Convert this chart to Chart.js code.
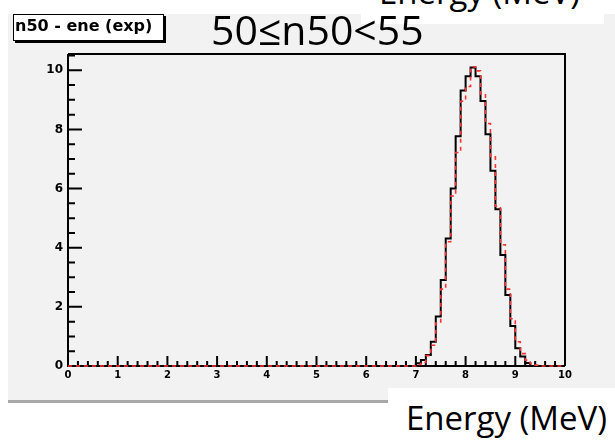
<!DOCTYPE html>
<html><head><meta charset="utf-8">
<script src="https://cdn.jsdelivr.net/npm/chart.js@4.4.0/dist/chart.umd.min.js"></script>
<style>
html,body{margin:0;padding:0;background:#fff;}
#wrap{position:relative;width:615px;height:440px;overflow:hidden;background:#fff;}
#panel{position:absolute;left:8px;top:14px;width:607px;height:386px;background:#f2f2f2;border-bottom:3px solid #a8a8a8;}
#c{position:absolute;left:0;top:0;}
.wbox{position:absolute;background:#fff;overflow:hidden;}
.slide{position:absolute;font-family:"Open Sans",sans-serif;line-height:1;white-space:nowrap;color:#000;}
#lbl{position:absolute;left:13px;top:14px;width:149px;height:25px;border:1px solid #000;box-shadow:2px 2px 0 #000;background:#fff;}
#lbl span{position:absolute;left:1px;top:3px;font-family:"DejaVu Sans",sans-serif;font-weight:bold;font-size:16px;line-height:1;white-space:nowrap;color:#000;}
</style></head>
<body>
<div id="wrap">
  <div id="panel"></div>
  <canvas id="c" width="615" height="440"></canvas>
  <div id="lbl"><span>n50 - ene (exp)</span></div>
  <div class="wbox" style="left:361px;top:0;width:243px;height:24px;">
    <div class="slide" style="left:18px;top:-25px;font-size:33px;">Energy (MeV)</div>
  </div>
  <div class="wbox" style="left:388px;top:388px;width:227px;height:52px;">
    <div class="slide" style="left:18px;top:13px;font-size:33px;">Energy (MeV)</div>
  </div>
  <div class="slide" style="left:211px;top:9px;font-size:41px;">50≤n50&lt;55</div>
</div>
<script>
// Histogram bins (low edges, width 0.1 MeV); bins outside this range are empty
const binLow   = [7.0,7.1,7.2,7.3,7.4,7.5,7.6,7.7,7.8,7.9,8.0,8.1,8.2,8.3,8.4,8.5,8.6,8.7,8.8,8.9,9.0,9.1,9.2,9.3,9.4];
const measured = [0.09,0.2,0.37,0.82,1.67,2.91,4.31,6.0,7.77,9.32,9.8,10.09,9.8,8.96,7.84,6.6,5.3,3.75,2.4,1.35,0.6,0.32,0.1,0,0];
const expected = [0.05,0.12,0.35,0.7,1.45,2.6,4.2,5.75,7.22,8.95,9.45,10.12,9.98,9.2,8.2,7.07,5.4,4.1,2.6,1.6,0.82,0.42,0.2,0.08,0.03];
const xRange = [0, 10];
const binWidth = 0.1;
const yMax = 10.55;
const xLabelStep = 1, xMinorStep = 0.2;
const yLabelStep = 2, yMinorStep = 0.5;

function histPoints(vals){
  const pts = [{x: xRange[0], y: 0}];
  binLow.forEach((b,i)=>pts.push({x:b, y:vals[i]}));
  pts.push({x: binLow[binLow.length-1] + binWidth, y: 0});
  pts.push({x: xRange[1], y: 0});
  return pts;
}

const axesPlugin = {
  id:'rootAxes',
  beforeDatasetsDraw(chart){
    const {ctx, chartArea:{left,right,top,bottom}, scales:{x,y}} = chart;
    ctx.save();
    ctx.strokeStyle = '#000';
    ctx.lineWidth = 2;
    ctx.beginPath();
    ctx.moveTo(left, top); ctx.lineTo(right, top); ctx.lineTo(right, bottom);
    ctx.moveTo(left, top); ctx.lineTo(left, bottom); ctx.lineTo(right, bottom);
    ctx.stroke();
    ctx.beginPath();
    for (let k = 0; k * yMinorStep <= yMax + 1e-9; k++){
      const v = k * yMinorStep;
      const py = y.getPixelForValue(v);
      const major = Math.abs(v / yLabelStep - Math.round(v / yLabelStep)) < 1e-6;
      ctx.moveTo(left, py); ctx.lineTo(left + (major ? 14 : 7), py);
    }
    for (let k = 0; k * xMinorStep <= xRange[1] + 1e-9; k++){
      const v = k * xMinorStep;
      const px = x.getPixelForValue(v);
      const major = Math.abs(v / xLabelStep - Math.round(v / xLabelStep)) < 1e-6;
      ctx.moveTo(px, bottom); ctx.lineTo(px, bottom - (major ? 10 : 5));
    }
    ctx.stroke();
    ctx.restore();
  }
};

new Chart(document.getElementById('c'), {
  type:'line',
  data:{datasets:[
    {label:'exp', data:histPoints(expected), stepped:'before', borderColor:'#ff3333', borderWidth:1.6, borderDash:[4,4], pointRadius:0, fill:false, clip:false},
    {label:'n50 - ene', data:histPoints(measured), stepped:'before', borderColor:'#000', borderWidth:2, pointRadius:0, fill:false, clip:false}
  ]},
  options:{
    responsive:false, animation:false, devicePixelRatio:1,
    layout:{padding:{left:8, top:54, right:50, bottom:54}},
    plugins:{legend:{display:false}, tooltip:{enabled:false}, title:{display:false}},
    scales:{
      x:{type:'linear', min:xRange[0], max:xRange[1],
        afterFit:s=>{s.height=20;},
        grid:{display:false, drawTicks:false}, border:{display:false},
        ticks:{stepSize:xLabelStep, includeBounds:false, autoSkip:false, maxRotation:0, padding:3,
          font:{family:'DejaVu Sans', weight:'bold', size:10}, color:'#000'}},
      y:{type:'linear', min:0, max:yMax,
        afterFit:s=>{s.width=60;},
        grid:{display:false, drawTicks:false}, border:{display:false},
        ticks:{stepSize:yLabelStep, includeBounds:false, padding:5,
          callback:v=> (Math.abs(v % yLabelStep) < 1e-6 ? v : ''),
          font:{family:'DejaVu Sans', weight:'bold', size:12}, color:'#000'}}
    }
  },
  plugins:[axesPlugin]
});
</script>
</body></html>
